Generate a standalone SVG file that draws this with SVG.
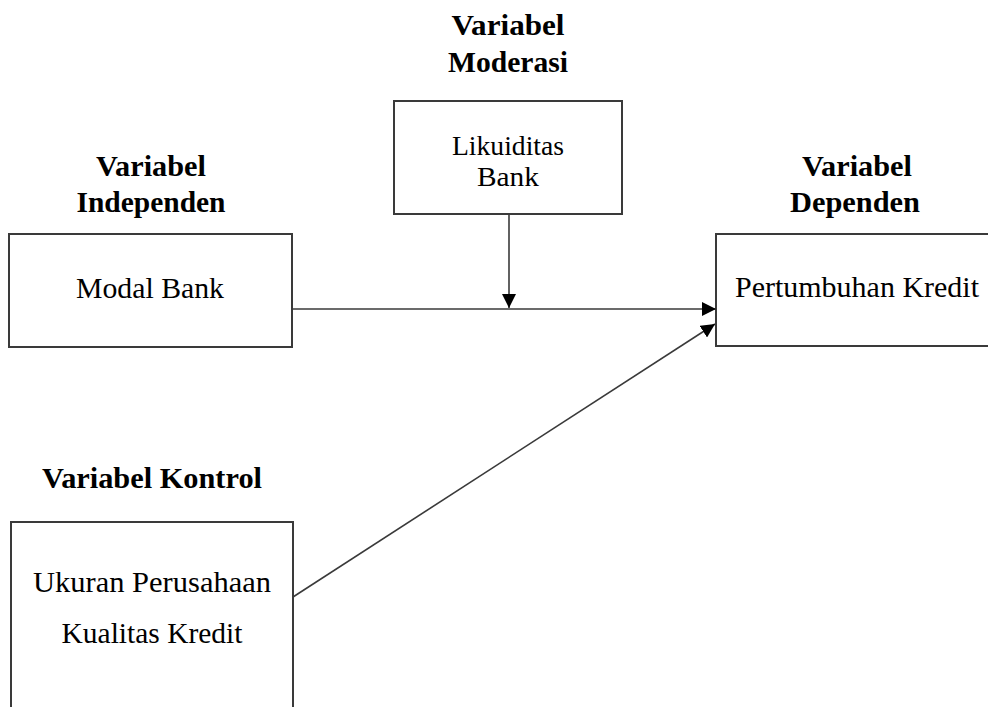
<svg xmlns="http://www.w3.org/2000/svg" width="988" height="707" viewBox="0 0 988 707">
<style>
.box{fill:#fff;stroke:#3a3a3a;stroke-width:2}
.h{font-family:"Liberation Serif","Times New Roman",serif;font-weight:bold;font-size:30px;fill:#000;text-anchor:middle}
.t{font-family:"Liberation Serif","Times New Roman",serif;font-size:29px;fill:#000;text-anchor:middle}
.s{font-size:27px}
.c{stroke:#3a3a3a;stroke-width:1.6;fill:none}
</style>
<defs>
<marker id="arrb" viewBox="0 0 10 10" refX="10" refY="5" markerWidth="14" markerHeight="14" markerUnits="userSpaceOnUse" orient="auto">
<path d="M0,0 L10,5 L0,10 z" fill="#000"/>
</marker>
</defs>
<rect width="988" height="707" fill="#fff"/>
<g id="moderasi">
<text class="h" x="508" y="35" textLength="113" lengthAdjust="spacingAndGlyphs">Variabel</text>
<text class="h" x="508" y="72" textLength="120" lengthAdjust="spacingAndGlyphs">Moderasi</text>
<rect class="box" x="394" y="101" width="228" height="113"/>
<text class="t s" x="508" y="155" textLength="112" lengthAdjust="spacingAndGlyphs">Likuiditas</text>
<text class="t s" x="508" y="186" textLength="62" lengthAdjust="spacingAndGlyphs">Bank</text>
</g>
<g id="independen">
<text class="h" x="151" y="176" textLength="110" lengthAdjust="spacingAndGlyphs">Variabel</text>
<text class="h" x="151" y="212" textLength="149" lengthAdjust="spacingAndGlyphs">Independen</text>
<rect class="box" x="9" y="234" width="283" height="113"/>
<text class="t" x="150" y="298" textLength="148" lengthAdjust="spacingAndGlyphs">Modal Bank</text>
</g>
<g id="dependen">
<text class="h" x="857" y="176" textLength="110" lengthAdjust="spacingAndGlyphs">Variabel</text>
<text class="h" x="855" y="212" textLength="130" lengthAdjust="spacingAndGlyphs">Dependen</text>
<rect class="box" x="716" y="234" width="290" height="112"/>
<text class="t" x="857" y="297" textLength="244" lengthAdjust="spacingAndGlyphs">Pertumbuhan Kredit</text>
</g>
<g id="kontrol">
<text class="h" x="152" y="488" textLength="220" lengthAdjust="spacingAndGlyphs">Variabel Kontrol</text>
<rect class="box" x="11" y="522" width="282" height="200"/>
<text class="t" x="152" y="592" textLength="238" lengthAdjust="spacingAndGlyphs">Ukuran Perusahaan</text>
<text class="t" x="152" y="643" textLength="181" lengthAdjust="spacingAndGlyphs">Kualitas Kredit</text>
</g>
<g id="connectors">
<line class="c" x1="293" y1="309" x2="716" y2="309" marker-end="url(#arrb)"/>
<line class="c" x1="509" y1="214" x2="509" y2="308" marker-end="url(#arrb)"/>
<line class="c" x1="293" y1="597" x2="715" y2="324" marker-end="url(#arrb)"/>
</g>
</svg>
